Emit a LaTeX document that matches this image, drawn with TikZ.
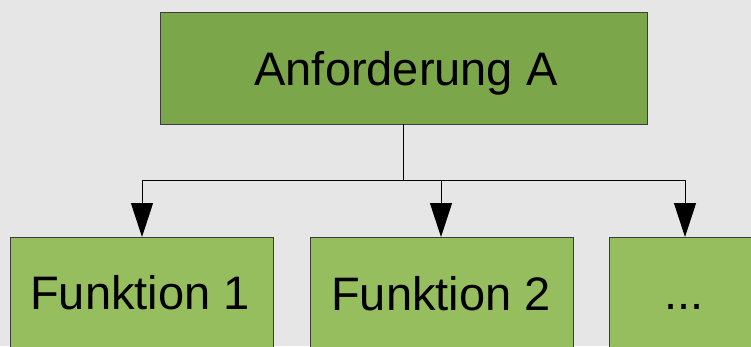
\documentclass[tikz,border=0pt]{standalone}
\usepackage{fontspec}
\setmainfont{Liberation Sans}
\usetikzlibrary{arrows.meta}
\definecolor{bg}{RGB}{230,230,230}
\definecolor{topgreen}{RGB}{124,166,74}
\definecolor{botgreen}{RGB}{150,190,94}
\definecolor{edge}{RGB}{60,60,60}
\tikzset{
  box/.style={draw=edge, line width=1pt},
  lbl/.style={font=\fontsize{47}{56}\selectfont, anchor=base, inner sep=0pt},
  conn/.style={line width=1pt, draw=black},
  arr/.style={conn, -{Triangle[width=22pt,length=34pt]}}
}
\begin{document}
\begin{tikzpicture}[x=1pt,y=-1pt]
\useasboundingbox (0,0) rectangle (751,346);
\clip (0,0) rectangle (751,346);
\fill[bg] (0,0) rectangle (751,346);
% boxes
\draw[box, fill=topgreen] (160,12) rectangle (647,124);
\draw[box, fill=botgreen] (10,237) rectangle (273,360);
\draw[box, fill=botgreen] (310,237) rectangle (573,360);
\draw[box, fill=botgreen] (609,237) rectangle (872,360);
% anchors
\coordinate (A) at (403,124);
\coordinate (J) at (403,180);
\coordinate (B1) at (142,237);
\coordinate (B2) at (441,237);
\coordinate (B3) at (685,237);
\coordinate (L) at (142,180);
\coordinate (R) at (685,180);
\coordinate (M) at (441,180);
% labels
\node[lbl] (ta) at (406,85) {Anforderung A};
\node[lbl] (t1) at (140,309) {Funktion 1};
\node[lbl] (t2) at (441,310) {Funktion 2};
\node[lbl] (t3) at (684,309) {...};
% connectors
\draw[conn] (A) -- (J);
\draw[conn] (L) -- (R);
\draw[arr] (L) -- (B1);
\draw[arr] (M) -- (B2);
\draw[arr] (R) -- (B3);
\end{tikzpicture}
\end{document}
